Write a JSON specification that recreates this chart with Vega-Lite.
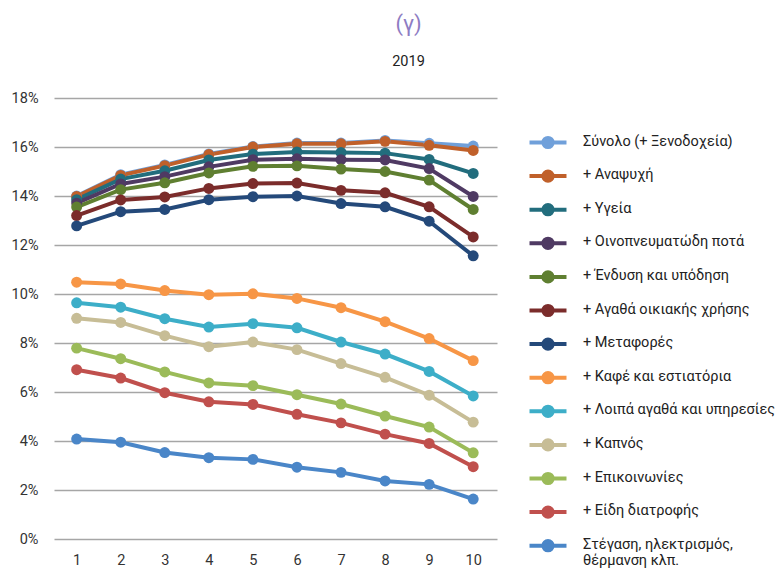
{
  "$schema": "https://vega.github.io/schema/vega-lite/v6.json",
  "width": 443,
  "height": 441,
  "autosize": {"type": "none"},
  "padding": {"left": 54, "top": 98, "right": 282, "bottom": 30},
  "background": "white",
  "config": {
    "font": "Roboto, sans-serif",
    "view": {"stroke": null}
  },
  "title": {
    "text": "(γ)",
    "subtitle": "2019",
    "fontSize": 22,
    "fontWeight": "normal",
    "color": "#8E7CC3",
    "subtitleFontSize": 14.5,
    "subtitleColor": "#222222",
    "subtitlePadding": 19,
    "offset": 21,
    "anchor": "middle",
    "dx": 133
  },
  "data": {
    "values": [
      {"series": "Σύνολο (+ Ξενοδοχεία)", "decile": 1, "share": 14.0},
      {"series": "Σύνολο (+ Ξενοδοχεία)", "decile": 2, "share": 14.87},
      {"series": "Σύνολο (+ Ξενοδοχεία)", "decile": 3, "share": 15.27},
      {"series": "Σύνολο (+ Ξενοδοχεία)", "decile": 4, "share": 15.72},
      {"series": "Σύνολο (+ Ξενοδοχεία)", "decile": 5, "share": 16.02},
      {"series": "Σύνολο (+ Ξενοδοχεία)", "decile": 6, "share": 16.16},
      {"series": "Σύνολο (+ Ξενοδοχεία)", "decile": 7, "share": 16.16},
      {"series": "Σύνολο (+ Ξενοδοχεία)", "decile": 8, "share": 16.27},
      {"series": "Σύνολο (+ Ξενοδοχεία)", "decile": 9, "share": 16.15},
      {"series": "Σύνολο (+ Ξενοδοχεία)", "decile": 10, "share": 16.04},
      {"series": "+ Αναψυχή", "decile": 1, "share": 13.98},
      {"series": "+ Αναψυχή", "decile": 2, "share": 14.84},
      {"series": "+ Αναψυχή", "decile": 3, "share": 15.24},
      {"series": "+ Αναψυχή", "decile": 4, "share": 15.69},
      {"series": "+ Αναψυχή", "decile": 5, "share": 16.0},
      {"series": "+ Αναψυχή", "decile": 6, "share": 16.13},
      {"series": "+ Αναψυχή", "decile": 7, "share": 16.13},
      {"series": "+ Αναψυχή", "decile": 8, "share": 16.23},
      {"series": "+ Αναψυχή", "decile": 9, "share": 16.07},
      {"series": "+ Αναψυχή", "decile": 10, "share": 15.86},
      {"series": "+ Υγεία", "decile": 1, "share": 13.85},
      {"series": "+ Υγεία", "decile": 2, "share": 14.69},
      {"series": "+ Υγεία", "decile": 3, "share": 15.03},
      {"series": "+ Υγεία", "decile": 4, "share": 15.47},
      {"series": "+ Υγεία", "decile": 5, "share": 15.71},
      {"series": "+ Υγεία", "decile": 6, "share": 15.8},
      {"series": "+ Υγεία", "decile": 7, "share": 15.78},
      {"series": "+ Υγεία", "decile": 8, "share": 15.75},
      {"series": "+ Υγεία", "decile": 9, "share": 15.49},
      {"series": "+ Υγεία", "decile": 10, "share": 14.92},
      {"series": "+ Οινοπνευματώδη ποτά", "decile": 1, "share": 13.71},
      {"series": "+ Οινοπνευματώδη ποτά", "decile": 2, "share": 14.49},
      {"series": "+ Οινοπνευματώδη ποτά", "decile": 3, "share": 14.79},
      {"series": "+ Οινοπνευματώδη ποτά", "decile": 4, "share": 15.19},
      {"series": "+ Οινοπνευματώδη ποτά", "decile": 5, "share": 15.48},
      {"series": "+ Οινοπνευματώδη ποτά", "decile": 6, "share": 15.52},
      {"series": "+ Οινοπνευματώδη ποτά", "decile": 7, "share": 15.48},
      {"series": "+ Οινοπνευματώδη ποτά", "decile": 8, "share": 15.47},
      {"series": "+ Οινοπνευματώδη ποτά", "decile": 9, "share": 15.12},
      {"series": "+ Οινοπνευματώδη ποτά", "decile": 10, "share": 13.98},
      {"series": "+ Ένδυση και υπόδηση", "decile": 1, "share": 13.55},
      {"series": "+ Ένδυση και υπόδηση", "decile": 2, "share": 14.26},
      {"series": "+ Ένδυση και υπόδηση", "decile": 3, "share": 14.54},
      {"series": "+ Ένδυση και υπόδηση", "decile": 4, "share": 14.94},
      {"series": "+ Ένδυση και υπόδηση", "decile": 5, "share": 15.21},
      {"series": "+ Ένδυση και υπόδηση", "decile": 6, "share": 15.23},
      {"series": "+ Ένδυση και υπόδηση", "decile": 7, "share": 15.1},
      {"series": "+ Ένδυση και υπόδηση", "decile": 8, "share": 15.0},
      {"series": "+ Ένδυση και υπόδηση", "decile": 9, "share": 14.65},
      {"series": "+ Ένδυση και υπόδηση", "decile": 10, "share": 13.45},
      {"series": "+ Αγαθά οικιακής χρήσης", "decile": 1, "share": 13.2},
      {"series": "+ Αγαθά οικιακής χρήσης", "decile": 2, "share": 13.84},
      {"series": "+ Αγαθά οικιακής χρήσης", "decile": 3, "share": 13.96},
      {"series": "+ Αγαθά οικιακής χρήσης", "decile": 4, "share": 14.31},
      {"series": "+ Αγαθά οικιακής χρήσης", "decile": 5, "share": 14.51},
      {"series": "+ Αγαθά οικιακής χρήσης", "decile": 6, "share": 14.53},
      {"series": "+ Αγαθά οικιακής χρήσης", "decile": 7, "share": 14.23},
      {"series": "+ Αγαθά οικιακής χρήσης", "decile": 8, "share": 14.13},
      {"series": "+ Αγαθά οικιακής χρήσης", "decile": 9, "share": 13.56},
      {"series": "+ Αγαθά οικιακής χρήσης", "decile": 10, "share": 12.33},
      {"series": "+ Μεταφορές", "decile": 1, "share": 12.78},
      {"series": "+ Μεταφορές", "decile": 2, "share": 13.36},
      {"series": "+ Μεταφορές", "decile": 3, "share": 13.45},
      {"series": "+ Μεταφορές", "decile": 4, "share": 13.85},
      {"series": "+ Μεταφορές", "decile": 5, "share": 13.97},
      {"series": "+ Μεταφορές", "decile": 6, "share": 14.0},
      {"series": "+ Μεταφορές", "decile": 7, "share": 13.69},
      {"series": "+ Μεταφορές", "decile": 8, "share": 13.56},
      {"series": "+ Μεταφορές", "decile": 9, "share": 12.97},
      {"series": "+ Μεταφορές", "decile": 10, "share": 11.56},
      {"series": "+ Καφέ και εστιατόρια", "decile": 1, "share": 10.48},
      {"series": "+ Καφέ και εστιατόρια", "decile": 2, "share": 10.41},
      {"series": "+ Καφέ και εστιατόρια", "decile": 3, "share": 10.14},
      {"series": "+ Καφέ και εστιατόρια", "decile": 4, "share": 9.97},
      {"series": "+ Καφέ και εστιατόρια", "decile": 5, "share": 10.01},
      {"series": "+ Καφέ και εστιατόρια", "decile": 6, "share": 9.82},
      {"series": "+ Καφέ και εστιατόρια", "decile": 7, "share": 9.44},
      {"series": "+ Καφέ και εστιατόρια", "decile": 8, "share": 8.87},
      {"series": "+ Καφέ και εστιατόρια", "decile": 9, "share": 8.18},
      {"series": "+ Καφέ και εστιατόρια", "decile": 10, "share": 7.28},
      {"series": "+ Λοιπά αγαθά και υπηρεσίες", "decile": 1, "share": 9.64},
      {"series": "+ Λοιπά αγαθά και υπηρεσίες", "decile": 2, "share": 9.46},
      {"series": "+ Λοιπά αγαθά και υπηρεσίες", "decile": 3, "share": 8.99},
      {"series": "+ Λοιπά αγαθά και υπηρεσίες", "decile": 4, "share": 8.65},
      {"series": "+ Λοιπά αγαθά και υπηρεσίες", "decile": 5, "share": 8.79},
      {"series": "+ Λοιπά αγαθά και υπηρεσίες", "decile": 6, "share": 8.62},
      {"series": "+ Λοιπά αγαθά και υπηρεσίες", "decile": 7, "share": 8.04},
      {"series": "+ Λοιπά αγαθά και υπηρεσίες", "decile": 8, "share": 7.55},
      {"series": "+ Λοιπά αγαθά και υπηρεσίες", "decile": 9, "share": 6.84},
      {"series": "+ Λοιπά αγαθά και υπηρεσίες", "decile": 10, "share": 5.84},
      {"series": "+ Καπνός", "decile": 1, "share": 9.01},
      {"series": "+ Καπνός", "decile": 2, "share": 8.84},
      {"series": "+ Καπνός", "decile": 3, "share": 8.3},
      {"series": "+ Καπνός", "decile": 4, "share": 7.85},
      {"series": "+ Καπνός", "decile": 5, "share": 8.04},
      {"series": "+ Καπνός", "decile": 6, "share": 7.73},
      {"series": "+ Καπνός", "decile": 7, "share": 7.16},
      {"series": "+ Καπνός", "decile": 8, "share": 6.6},
      {"series": "+ Καπνός", "decile": 9, "share": 5.87},
      {"series": "+ Καπνός", "decile": 10, "share": 4.77},
      {"series": "+ Επικοινωνίες", "decile": 1, "share": 7.79},
      {"series": "+ Επικοινωνίες", "decile": 2, "share": 7.36},
      {"series": "+ Επικοινωνίες", "decile": 3, "share": 6.82},
      {"series": "+ Επικοινωνίες", "decile": 4, "share": 6.37},
      {"series": "+ Επικοινωνίες", "decile": 5, "share": 6.26},
      {"series": "+ Επικοινωνίες", "decile": 6, "share": 5.89},
      {"series": "+ Επικοινωνίες", "decile": 7, "share": 5.51},
      {"series": "+ Επικοινωνίες", "decile": 8, "share": 5.02},
      {"series": "+ Επικοινωνίες", "decile": 9, "share": 4.57},
      {"series": "+ Επικοινωνίες", "decile": 10, "share": 3.52},
      {"series": "+ Είδη διατροφής", "decile": 1, "share": 6.91},
      {"series": "+ Είδη διατροφής", "decile": 2, "share": 6.57},
      {"series": "+ Είδη διατροφής", "decile": 3, "share": 5.97},
      {"series": "+ Είδη διατροφής", "decile": 4, "share": 5.6},
      {"series": "+ Είδη διατροφής", "decile": 5, "share": 5.49},
      {"series": "+ Είδη διατροφής", "decile": 6, "share": 5.09},
      {"series": "+ Είδη διατροφής", "decile": 7, "share": 4.74},
      {"series": "+ Είδη διατροφής", "decile": 8, "share": 4.28},
      {"series": "+ Είδη διατροφής", "decile": 9, "share": 3.9},
      {"series": "+ Είδη διατροφής", "decile": 10, "share": 2.95},
      {"series": "Στέγαση, ηλεκτρισμός, θέρμανση κλπ.", "decile": 1, "share": 4.08},
      {"series": "Στέγαση, ηλεκτρισμός, θέρμανση κλπ.", "decile": 2, "share": 3.95},
      {"series": "Στέγαση, ηλεκτρισμός, θέρμανση κλπ.", "decile": 3, "share": 3.53},
      {"series": "Στέγαση, ηλεκτρισμός, θέρμανση κλπ.", "decile": 4, "share": 3.32},
      {"series": "Στέγαση, ηλεκτρισμός, θέρμανση κλπ.", "decile": 5, "share": 3.25},
      {"series": "Στέγαση, ηλεκτρισμός, θέρμανση κλπ.", "decile": 6, "share": 2.93},
      {"series": "Στέγαση, ηλεκτρισμός, θέρμανση κλπ.", "decile": 7, "share": 2.72},
      {"series": "Στέγαση, ηλεκτρισμός, θέρμανση κλπ.", "decile": 8, "share": 2.37},
      {"series": "Στέγαση, ηλεκτρισμός, θέρμανση κλπ.", "decile": 9, "share": 2.23},
      {"series": "Στέγαση, ηλεκτρισμός, θέρμανση κλπ.", "decile": 10, "share": 1.63}
    ]
  },
  "mark": {"type": "line", "strokeWidth": 4, "point": {"filled": true, "size": 120, "opacity": 1}},
  "encoding": {
    "x": {
      "field": "decile",
      "type": "quantitative",
      "scale": {"domain": [0.486, 10.54], "nice": false, "zero": false},
      "axis": {
        "values": [1, 2, 3, 4, 5, 6, 7, 8, 9, 10],
        "title": null,
        "grid": false,
        "domain": false,
        "ticks": false,
        "labelPadding": 14,
        "labelFontSize": 14.5,
        "labelColor": "#333333",
        "labelFlush": false
      }
    },
    "y": {
      "field": "share",
      "type": "quantitative",
      "scale": {"domain": [0, 18], "nice": false},
      "axis": {
        "values": [0, 2, 4, 6, 8, 10, 12, 14, 16, 18],
        "labelExpr": "datum.value + '%'",
        "title": null,
        "domain": false,
        "ticks": false,
        "gridColor": "#A6A6A6",
        "gridWidth": 1.5,
        "labelPadding": 16,
        "labelFontSize": 14.5,
        "labelColor": "#333333"
      }
    },
    "color": {
      "field": "series",
      "type": "nominal",
      "scale": {
        "domain": ["Σύνολο (+ Ξενοδοχεία)", "+ Αναψυχή", "+ Υγεία", "+ Οινοπνευματώδη ποτά", "+ Ένδυση και υπόδηση", "+ Αγαθά οικιακής χρήσης", "+ Μεταφορές", "+ Καφέ και εστιατόρια", "+ Λοιπά αγαθά και υπηρεσίες", "+ Καπνός", "+ Επικοινωνίες", "+ Είδη διατροφής", "Στέγαση, ηλεκτρισμός, θέρμανση κλπ."],
        "range": ["#70A0DA", "#C0602A", "#226D7D", "#4F3A63", "#5F7F31", "#7B2C2B", "#24497A", "#F79646", "#3DAEC8", "#C7BD96", "#9BBB59", "#C0504D", "#4A86C8"]
      },
      "legend": {
        "title": null,
        "orient": "none",
        "legendX": 482.5,
        "legendY": 33,
        "padding": 0,
        "symbolType": "M-2,0L2,0M-0.5,0A0.5,0.5 0 1,0 0.5,0A0.5,0.5 0 1,0 -0.5,0Z",
        "symbolSize": 342,
        "symbolStrokeWidth": 4,
        "labelOffset": 23.5,
        "rowPadding": 6.6,
        "labelFontSize": 14.5,
        "labelColor": "#222222",
        "labelLimit": 300,
        "labelBaseline": "top",
        "labelExpr": "datum.label == 'Στέγαση, ηλεκτρισμός, θέρμανση κλπ.' ? ['Στέγαση, ηλεκτρισμός,', 'θέρμανση κλπ.'] : datum.label",
        "encode": {
          "symbols": {"update": {"fill": {"scale": "color", "field": "value"}, "opacity": {"value": 1}}},
          "labels": {"update": {"dy": {"value": -8}}}
        }
      }
    }
  }
}
